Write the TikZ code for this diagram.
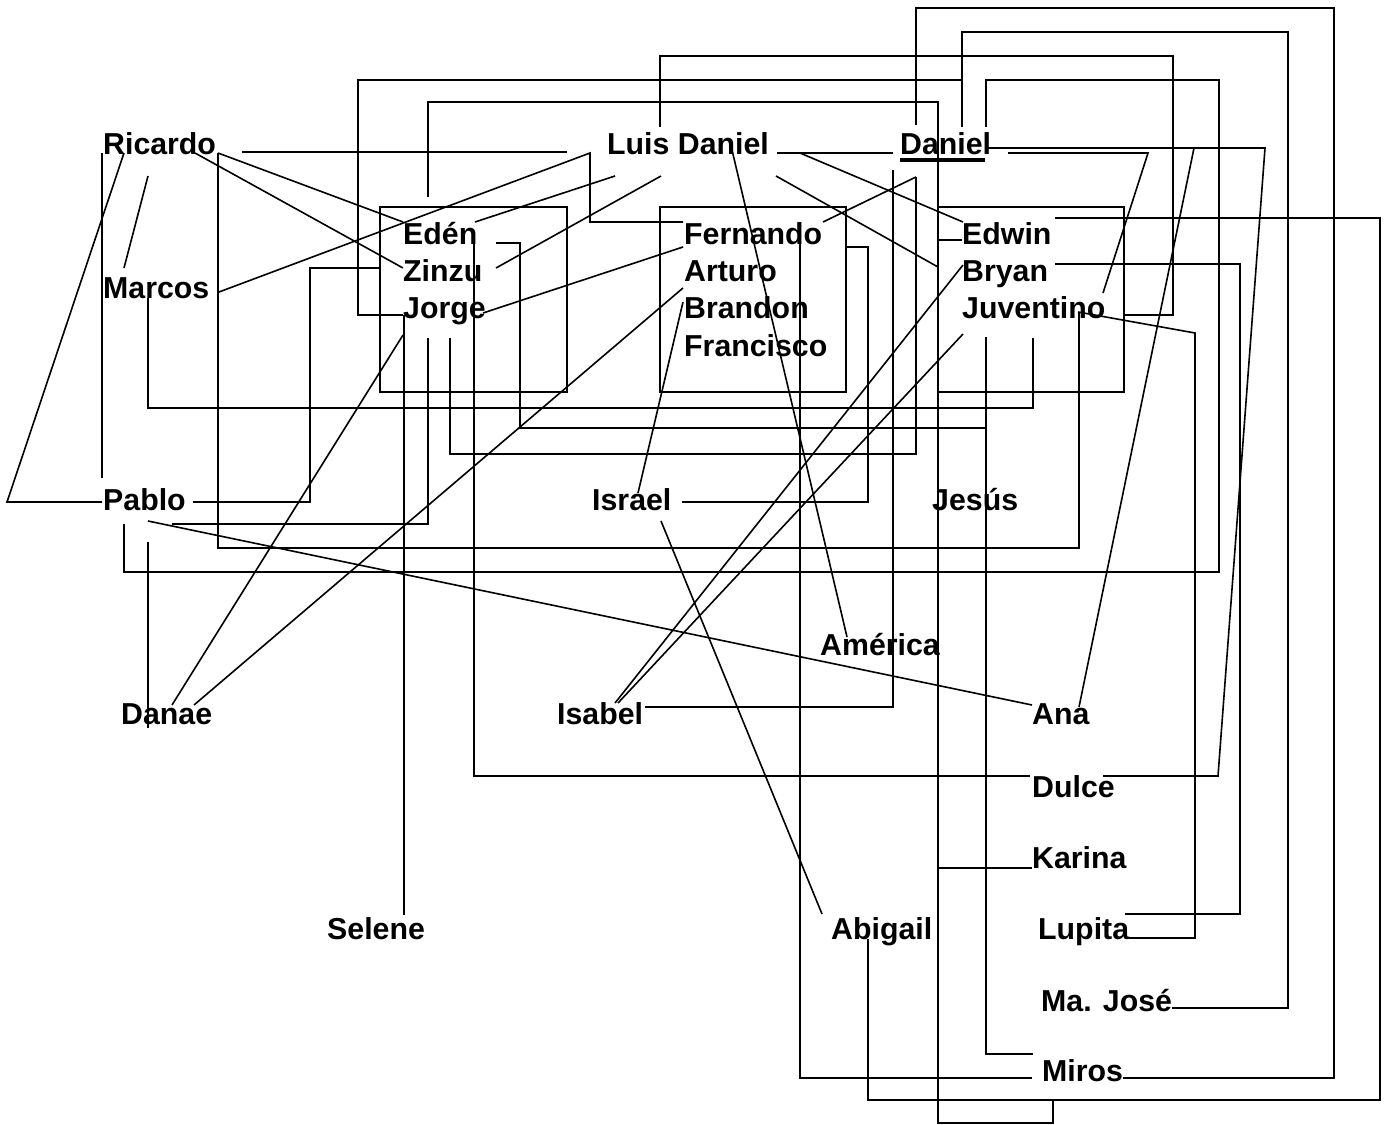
\documentclass[tikz,border=0pt]{standalone}
\usepackage{fontspec}
\setmainfont{Liberation Sans}
\begin{document}
\begin{tikzpicture}[x=1pt,y=-1pt,
  lbl/.style={anchor=base west,inner sep=0pt,font=\bfseries\fontsize{30.3}{36}\selectfont},
  ln/.style={line width=1.6pt,line join=miter},
  grp/.style={line width=1.6pt}]
\fill[white] (0,0) rectangle (1388,1124);
\useasboundingbox (0,0) rectangle (1388,1124);
% groups
\draw[grp] (380,207) rectangle (567,392);
\draw[grp] (660,207) rectangle (846,392);
\draw[grp] (938,207) rectangle (1124,392);
% labels
\node[lbl] (Ricardo) at (103,154) {Ricardo};
\node[lbl] (Marcos) at (103,298) {Marcos};
\node[lbl] (LuisDaniel) at (607,154) {Luis Daniel};
\node[lbl] (Daniel) at (900,154) {Daniel};
\node[lbl] (Eden) at (403,244) {Edén};
\node[lbl] (Zinzu) at (403,281) {Zinzu};
\node[lbl] (Jorge) at (403,318) {Jorge};
\node[lbl] (Fernando) at (684,244) {Fernando};
\node[lbl] (Arturo) at (684,281) {Arturo};
\node[lbl] (Brandon) at (684,318) {Brandon};
\node[lbl] (Francisco) at (684,356) {Francisco};
\node[lbl] (Edwin) at (962,244) {Edwin};
\node[lbl] (Bryan) at (962,281) {Bryan};
\node[lbl] (Juventino) at (962,318) {Juventino};
\node[lbl] (Pablo) at (103,510) {Pablo};
\node[lbl] (Israel) at (592,510) {Israel};
\node[lbl] (Jesus) at (932,510) {Jesús};
\node[lbl] (America) at (820,655) {América};
\node[lbl] (Danae) at (121,724) {Danae};
\node[lbl] (Isabel) at (557,724) {Isabel};
\node[lbl] (Ana) at (1032,724) {Ana};
\node[lbl] (Dulce) at (1032,797) {Dulce};
\node[lbl] (Karina) at (1032,868) {Karina};
\node[lbl] (Lupita) at (1038,939) {Lupita};
\node[lbl] (MaJose) at (1041,1011) {Ma. José};
\node[lbl] (Miros) at (1042,1081) {Miros};
\node[lbl] (Selene) at (327,939) {Selene};
\node[lbl] (Abigail) at (831,939) {Abigail};
% underline of Daniel
\fill (900,158) rectangle (985,162);
% connectors
\draw[ln] (242,152) -- (567,152);
\draw[ln] (218,153) -- (403,222);
\draw[ln] (195,153) -- (403,268);
\draw[ln] (148,176) -- (124,268);
\draw[ln] (124,153) -- (7,502) -- (102,502);
\draw[ln] (102,153) -- (102,478);
\draw[ln] (218,153) -- (218,548) -- (1079,548) -- (1079,312);
\draw[ln] (148,298) -- (148,408) -- (1033,408) -- (1033,338);
\draw[ln] (219,292) -- (590,153) -- (590,222) -- (683,222);
\draw[ln] (193,502) -- (310,502) -- (310,268) -- (380,268);
\draw[ln] (172,524) -- (428,524) -- (428,338);
\draw[ln] (124,524) -- (124,572) -- (1219,572) -- (1219,80) -- (986,80) -- (986,127);
\draw[ln] (148,521) -- (1032,705);
\draw[ln] (148,542) -- (148,728);
\draw[ln] (172,705) -- (403,335);
\draw[ln] (194,705) -- (683,288);
\draw[ln] (404,315) -- (404,915);
\draw[ln] (403,315) -- (358,315) -- (358,80) -- (962,80) -- (962,127);
\draw[ln] (962,127) -- (962,32) -- (1288,32) -- (1288,1008) -- (1172,1008);
\draw[ln] (916,125) -- (916,8) -- (1334,8) -- (1334,1078) -- (1123,1078);
\draw[ln] (660,127) -- (660,56) -- (1173,56) -- (1173,315) -- (1124,315);
\draw[ln] (428,197) -- (428,102) -- (938,102) -- (938,240) -- (962,240);
\draw[ln] (938,152) -- (938,1123) -- (1053,1123) -- (1053,1100);
\draw[ln] (1032,868) -- (938,868);
\draw[ln] (1055,218) -- (1380,218) -- (1380,1100) -- (868,1100) -- (868,939);
\draw[ln] (800,233) -- (800,1078) -- (1032,1078);
\draw[ln] (475,222) -- (615,176);
\draw[ln] (496,268) -- (661,176);
\draw[ln] (483,313) -- (683,247);
\draw[ln] (496,243) -- (520,243) -- (520,428) -- (986,428);
\draw[ln] (986,337) -- (986,1054) -- (1033,1054);
\draw[ln] (474,243) -- (474,776) -- (1030,776);
\draw[ln] (985,148) -- (1265,148) -- (1218,776) -- (1103,776);
\draw[ln] (1194,148) -- (1079,707);
\draw[ln] (1008,153) -- (1148,153) -- (1103,293);
\draw[ln] (1078,312) -- (1195,333) -- (1195,938) -- (1125,938);
\draw[ln] (1055,264) -- (1240,264) -- (1240,914) -- (1125,914);
\draw[ln] (661,521) -- (822,914);
\draw[ln] (638,493) -- (683,302);
\draw[ln] (682,502) -- (868,502) -- (868,247) -- (846,247);
\draw[ln] (645,707) -- (893,707) -- (893,170);
\draw[ln] (615,703) -- (963,265);
\draw[ln] (618,703) -- (963,334);
\draw[ln] (823,222) -- (916,177);
\draw[ln] (450,338) -- (450,454) -- (916,454) -- (916,177);
\draw[ln] (800,153) -- (963,222);
\draw[ln] (777,153) -- (893,153);
\draw[ln] (776,176) -- (938,267);
\draw[ln] (732,150) -- (847,637);
\end{tikzpicture}
\end{document}
